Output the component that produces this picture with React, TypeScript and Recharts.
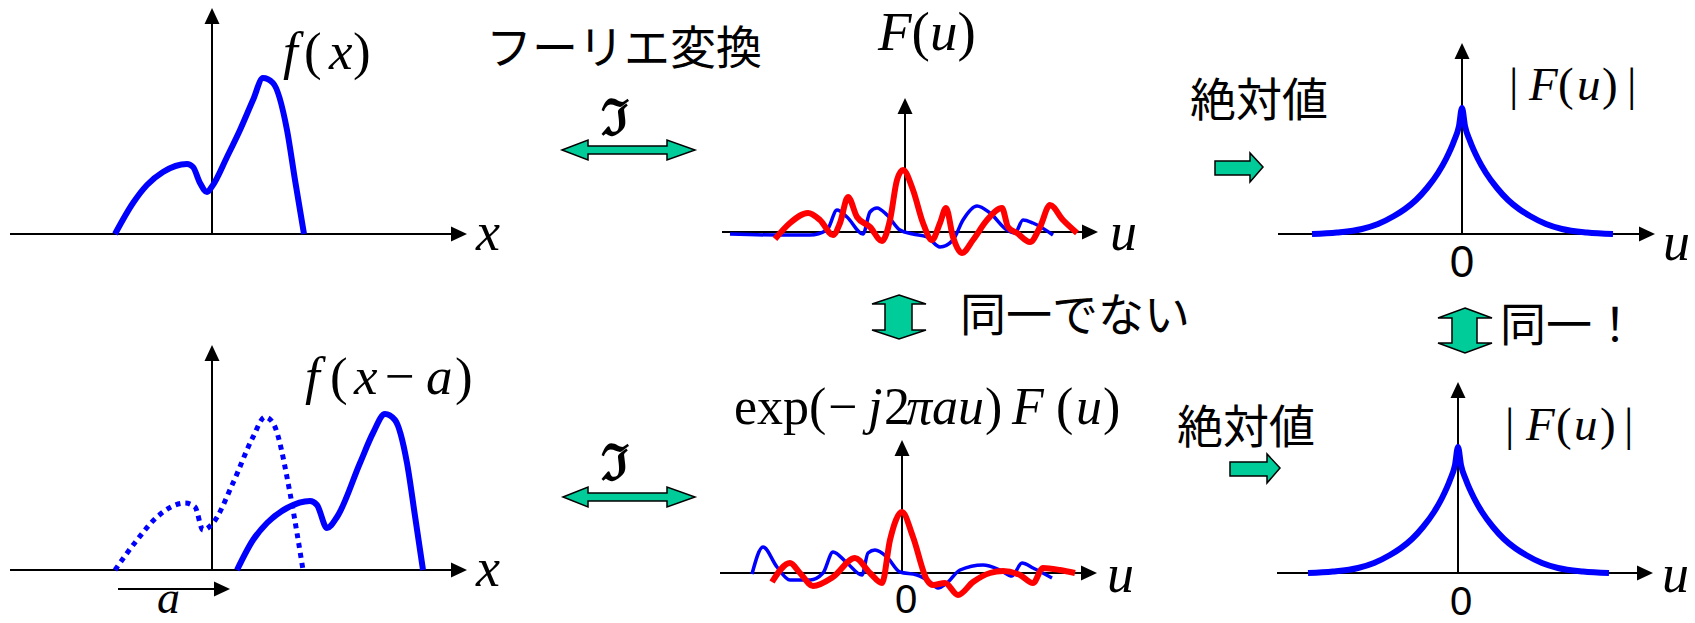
import React from "react";
import { LineChart, Line, XAxis, YAxis, ReferenceLine } from "recharts";

// ---------- data (arbitrary units, origin of each small plot = 0) ----------
// f(x)
const fX = [-9.7, -7.9, -6.5, -4.9, -2.5, -1.9, -1.2, -0.5, 0.1, 1.5, 2.8, 4.1, 5.1, 6.1, 7.5, 8.3, 9.2];
const fY = [0, 3.1, 4.9, 6.2, 7.0, 6.7, 5.1, 4.2, 4.9, 7.7, 10.4, 13.4, 15.6, 15.1, 10.4, 5.4, 0];
// f(x) dotted (original) in the shifted plot
const fDotX = [-9.7, -7.5, -5.5, -2.7, -1.7, -0.9, 0.1, 2.1, 4.1, 5.3, 6.1, 7.8, 8.5, 9.1];
const fDotY = [0, 3.0, 5.3, 6.7, 6.3, 4.0, 4.7, 8.7, 13.3, 15.3, 14.7, 7.7, 3.7, 0];
// f(x-a)
const fShiftX = [2.5, 4.1, 5.5, 7.5, 9.8, 10.5, 11.5, 12.5, 14.8, 16.1, 17.3, 18.3, 19.5, 20.3, 21.1];
const fShiftY = [0, 3.0, 4.7, 6.2, 6.9, 6.5, 4.2, 5.3, 10.7, 13.7, 15.6, 15.0, 10.7, 5.4, 0];
// F(u): blue and red components
const FBlueX = [-17.5, -12.8, -9.5, -7.8, -6.8, -5.8, -4.2, -3.5, -2.8, -1.8, -0.5, 0.8, 2.2, 3.5, 4.8, 5.8, 7.2, 8.5, 10.2, 11.0, 11.8, 12.8, 14.8];
const FBlueY = [-0.2, -0.3, -0.3, 0.2, 2.2, 1.5, -0.2, 2.0, 2.4, 1.7, 0.2, -0.2, -0.5, -1.5, -0.8, 1.2, 2.6, 1.9, 0.2, -0.1, 1.2, 0.9, -0.3];
const FRedX = [-13.0, -11.5, -9.7, -8.5, -7.2, -6.5, -5.7, -4.8, -3.5, -2.3, -1.5, -0.8, -0.2, 0.8, 1.8, 2.7, 3.5, 4.1, 4.8, 5.7, 6.8, 8.2, 9.7, 10.3, 11.2, 12.5, 13.5, 14.5, 15.8, 17.2];
const FRedY = [-0.7, 0.9, 1.9, 1.2, -0.3, 0.9, 3.5, 1.5, 0.5, -0.9, 1.2, 5.2, 6.2, 4.2, 0.9, -0.8, 0.9, 2.4, -0.5, -2.1, -0.8, 1.2, 2.4, 0.5, -0.1, -1.0, 0.5, 2.7, 1.2, -0.1];
// exp(-j2πau)F(u): blue and red components
const GBlueX = [-15.0, -13.9, -12.5, -11.2, -9.2, -7.9, -6.9, -5.5, -4.0, -3.4, -2.7, -1.5, -0.2, 1.5, 2.8, 3.6, 4.5, 5.8, 8.1, 9.8, 11.0, 12.0, 13.1, 15.0];
const GBlueY = [-0.1, 2.6, 0.6, -0.7, -0.7, 0, 2.1, 1.0, -0.2, 2.0, 2.3, 1.6, 0.1, -0.2, -0.9, -1.5, -1.0, 0.3, 0.8, 0.3, -0.3, 1.0, 0.5, -0.5];
const GRedX = [-13.0, -11.2, -10.2, -8.9, -6.9, -4.7, -3.2, -2.0, -1.2, 0, 1.1, 2.5, 3.1, 4.3, 5.6, 7.1, 8.8, 10.1, 11.8, 13.1, 14.1, 15.8, 17.3];
const GRedY = [-0.9, 1.0, 0, -1.3, -0.4, 1.5, 0, -1.0, 3.3, 6.1, 3.6, -0.7, -1.2, -1.0, -2.2, -0.9, 0, 0.2, -0.2, -1.0, 0.5, 0.3, 0];
// |F(u)|
const absX = [-15.0, -12.5, -10.0, -8.4, -6.8, -5.7, -4.6, -3.5, -2.4, -1.6, -0.8, -0.3, 0, 0.3, 0.8, 1.6, 2.4, 3.5, 4.6, 5.7, 6.8, 8.4, 10.0, 12.5, 15.1];
const absY = [0, 0.15, 0.5, 1.0, 1.8, 2.5, 3.4, 4.6, 6.1, 7.5, 9.3, 10.8, 12.6, 10.8, 9.3, 7.5, 6.1, 4.6, 3.4, 2.5, 1.8, 1.0, 0.5, 0.15, 0];

const zip = (xs: number[], ys: number[]) => xs.map((x, i) => ({ x, y: ys[i] }));

const BLUE = "#0000ff";
const RED = "#ff0000";
const GREEN = "#00cc99";
const SERIF = "'Liberation Serif', 'Times New Roman', serif";
const SANS = "'Liberation Sans', Arial, sans-serif";
const JP = "'Noto Sans CJK JP', sans-serif";

const SCALE = 10; // px per unit

function ArrowShape(p: any) {
  const { x1, y1, x2, y2 } = p;
  if ([x1, y1, x2, y2].some((v) => typeof v !== "number" || isNaN(v))) return <g />;
  const dx = x2 - x1, dy = y2 - y1;
  const L = Math.hypot(dx, dy) || 1;
  const ux = dx / L, uy = dy / L;
  const hl = 16, hw = 7.5;
  const bx = x2 - ux * hl, by = y2 - uy * hl;
  return (
    <g>
      <line x1={x1} y1={y1} x2={bx + ux} y2={by + uy} stroke="#000" strokeWidth={2} />
      <polygon
        points={`${x2},${y2} ${bx - uy * hw},${by + ux * hw} ${bx + uy * hw},${by - ux * hw}`}
        fill="#000"
      />
    </g>
  );
}

type Series = { data: { x: number; y: number }[]; color: string; width: number; dash?: string };
type Seg = [number, number, number, number];

function Panel({ ox, oy, xd, yd, series, arrows }: { ox: number; oy: number; xd: [number, number]; yd: [number, number]; series: Series[]; arrows: Seg[] }) {
  const left = ox + xd[0] * SCALE;
  const top = oy - yd[1] * SCALE;
  const width = (xd[1] - xd[0]) * SCALE;
  const height = (yd[1] - yd[0]) * SCALE;
  return (
    <div style={{ position: "absolute", left, top, width, height }}>
      <LineChart width={width} height={height} margin={{ top: 0, right: 0, bottom: 0, left: 0 }}>
        <XAxis type="number" dataKey="x" domain={xd} hide allowDataOverflow />
        <YAxis type="number" dataKey="y" domain={yd} hide allowDataOverflow />
        {arrows.map((a, i) => (
          <ReferenceLine
            key={"a" + i}
            segment={[{ x: a[0], y: a[1] }, { x: a[2], y: a[3] }]}
            shape={ArrowShape}
            ifOverflow="visible"
          />
        ))}
        {series.map((s, i) => (
          <Line
            key={"s" + i}
            data={s.data}
            dataKey="y"
            type="monotone"
            stroke={s.color}
            strokeWidth={s.width}
            strokeDasharray={s.dash}
            strokeLinecap="butt"
            dot={false}
            activeDot={false}
            isAnimationActive={false}
          />
        ))}
      </LineChart>
    </div>
  );
}

function Txt({ x, y, size, family, italic, children, anchor, weight }: any) {
  return (
    <text x={x} y={y} fontSize={size} fontFamily={family} fontStyle={italic ? "italic" : "normal"} fontWeight={weight || "normal"} textAnchor={anchor || "start"} fill="#000">
      {children}
    </text>
  );
}

export default function App() {
  const I = { fontStyle: "italic" } as const;
  return (
    <div style={{ position: "absolute", left: 0, top: 0, width: 1695, height: 623, background: "#fff", overflow: "hidden" }}>
      {/* f(x) */}
      <Panel ox={212} oy={234} xd={[-21.5, 26.8]} yd={[-1.2, 23.8]}
        arrows={[[-20.2, 0, 25.5, 0], [0, 0, 0, 22.6]]}
        series={[{ data: zip(fX, fY), color: BLUE, width: 6 }]} />
      {/* f(x-a) */}
      <Panel ox={212} oy={570} xd={[-21.5, 26.8]} yd={[-3.2, 23.8]}
        arrows={[[-20.2, 0, 25.5, 0], [0, 0, 0, 22.5], [-9.4, -1.9, 1.8, -1.9]]}
        series={[
          { data: zip(fDotX, fDotY), color: BLUE, width: 5, dash: "5 5" },
          { data: zip(fShiftX, fShiftY), color: BLUE, width: 6 },
        ]} />
      {/* F(u) */}
      <Panel ox={905} oy={232} xd={[-19.5, 20.5]} yd={[-3.5, 14.5]}
        arrows={[[-18.3, 0, 19.3, 0], [0, 0, 0, 13.4]]}
        series={[
          { data: zip(FBlueX, FBlueY), color: BLUE, width: 3.5 },
          { data: zip(FRedX, FRedY), color: RED, width: 6 },
        ]} />
      {/* exp(-j2πau)F(u) */}
      <Panel ox={902} oy={573} xd={[-19.5, 20.7]} yd={[-3.5, 14.5]}
        arrows={[[-18.2, 0, 19.5, 0], [0, 0, 0, 13.3]]}
        series={[
          { data: zip(GBlueX, GBlueY), color: BLUE, width: 3.5 },
          { data: zip(GRedX, GRedY), color: RED, width: 6 },
        ]} />
      {/* |F(u)| top */}
      <Panel ox={1462} oy={234} xd={[-19.7, 20.5]} yd={[-1.2, 20.3]}
        arrows={[[-18.4, 0, 19.3, 0], [0, 0, 0, 19.1]]}
        series={[{ data: zip(absX, absY), color: BLUE, width: 6 }]} />
      {/* |F(u)| bottom */}
      <Panel ox={1458} oy={573} xd={[-19.4, 20.7]} yd={[-1.2, 20.3]}
        arrows={[[-18.1, 0, 19.5, 0], [0, 0, 0, 19.1]]}
        series={[{ data: zip(absX, absY), color: BLUE, width: 6 }]} />

      <svg width={1695} height={623} style={{ position: "absolute", left: 0, top: 0, pointerEvents: "none" }}>
        {/* green arrows */}
        <g fill={GREEN} stroke="#000" strokeWidth={1.5} strokeLinejoin="miter">
          <polygon points="562,150 588,140 588,146 667,146 667,140 695,150 667,160 667,154 588,154 588,160" />
          <polygon points="563,497 588,487 588,493 667,493 667,487 695,497 667,507 667,501 588,501 588,507" />
          <polygon points="899,295 926,304 912,304 912,330 926,330 899,339 872,330 885,330 885,304 872,304" />
          <polygon points="1465,308 1492,318 1477,318 1477,343 1492,343 1465,353 1438,343 1452,343 1452,318 1438,318" />
          <polygon points="1215,161 1250,161 1250,153 1263,167 1250,182 1250,175 1215,175" />
          <polygon points="1230,462 1267,462 1267,454 1280,468 1267,483 1267,476 1230,476" />
        </g>

        {/* Japanese labels */}
        <Txt x={486} y={64} size={46} family={JP}>フーリエ変換</Txt>
        <Txt x={960} y={331} size={46} family={JP}>同一でない</Txt>
        <Txt x={1500} y={341} size={46} family={JP}>同一！</Txt>
        <Txt x={1190} y={116} size={46} family={JP}>絶対値</Txt>
        <Txt x={1177} y={443} size={46} family={JP}>絶対値</Txt>

        {/* Fourier symbol */}
        <Txt x={601} y={135} size={50} weight="bold" family={"'DejaVu Serif', serif"}>ℑ</Txt>
        <Txt x={601} y={480} size={50} weight="bold" family={"'DejaVu Serif', serif"}>ℑ</Txt>

        {/* f(x) */}
        <text fontSize={53} fontFamily={SERIF} y={69}>
          <tspan x={283} style={I}>f</tspan>
          <tspan x={304}>(</tspan>
          <tspan x={329} style={I}>x</tspan>
          <tspan x={353}>)</tspan>
        </text>
        {/* f(x-a) */}
        <text fontSize={53} fontFamily={SERIF} y={394}>
          <tspan x={305} style={I}>f</tspan>
          <tspan x={330}>(</tspan>
          <tspan x={354} style={I}>x</tspan>
          <tspan x={385}>−</tspan>
          <tspan x={426} style={I}>a</tspan>
          <tspan x={455}>)</tspan>
        </text>
        {/* F(u) */}
        <text fontSize={55} fontFamily={SERIF} y={50}>
          <tspan x={878} style={I}>F</tspan>
          <tspan>(</tspan>
          <tspan style={I}>u</tspan>
          <tspan>)</tspan>
        </text>
        {/* exp(-j2πau)F(u) */}
        <text fontSize={52} fontFamily={SERIF} y={424}>
          <tspan x={734}>exp(</tspan>
          <tspan x={828}>−</tspan>
          <tspan x={868} style={I}>j</tspan>
          <tspan x={884}>2</tspan>
          <tspan x={906} style={I}>πau</tspan>
          <tspan x={985}>)</tspan>
          <tspan x={1012} style={I}>F</tspan>
          <tspan x={1056}>(</tspan>
          <tspan x={1076} style={I}>u</tspan>
          <tspan x={1103}>)</tspan>
        </text>
        {/* |F(u)| top */}
        <text fontSize={47} fontFamily={SERIF} y={100}>
          <tspan x={1509}>|</tspan>
          <tspan x={1529} style={I}>F</tspan>
          <tspan x={1558}>(</tspan>
          <tspan x={1577} style={I}>u</tspan>
          <tspan x={1602}>)</tspan>
          <tspan x={1627}>|</tspan>
        </text>
        {/* |F(u)| bottom */}
        <text fontSize={47} fontFamily={SERIF} y={440}>
          <tspan x={1505}>|</tspan>
          <tspan x={1526} style={I}>F</tspan>
          <tspan x={1556}>(</tspan>
          <tspan x={1574} style={I}>u</tspan>
          <tspan x={1600}>)</tspan>
          <tspan x={1624}>|</tspan>
        </text>

        {/* axis labels */}
        <Txt x={476} y={250} size={54} family={SERIF} italic>x</Txt>
        <Txt x={476} y={586} size={54} family={SERIF} italic>x</Txt>
        <Txt x={157} y={613} size={46} family={SERIF} italic>a</Txt>
        <Txt x={1110} y={250} size={54} family={SERIF} italic>u</Txt>
        <Txt x={1107} y={592} size={54} family={SERIF} italic>u</Txt>
        <Txt x={1663} y={260} size={54} family={SERIF} italic>u</Txt>
        <Txt x={1662} y={592} size={54} family={SERIF} italic>u</Txt>

        {/* zero tick labels */}
        <Txt x={1462} y={277} size={44} family={SANS} anchor="middle">0</Txt>
        <Txt x={1461} y={615} size={40} family={SANS} anchor="middle">0</Txt>
        <Txt x={906} y={613} size={40} family={SANS} anchor="middle">0</Txt>
      </svg>
    </div>
  );
}
